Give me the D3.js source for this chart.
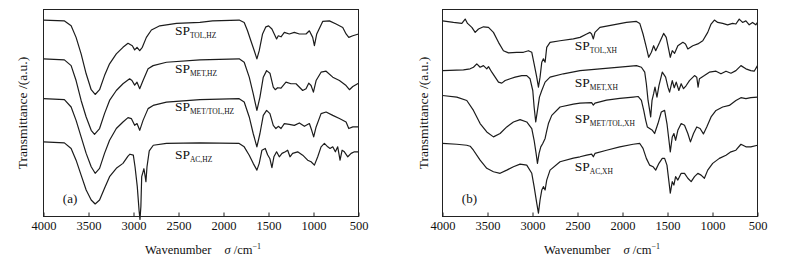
<!DOCTYPE html>
<html lang="en">
<head>
<meta charset="UTF-8">
<title>FTIR spectra (a) HZ and (b) XH</title>
<script src="https://d3js.org/d3.v7.min.js"></script>
<style>
    body { margin: 0; background: #fff; }
    text { font-family: "Liberation Serif", "Times New Roman", serif; fill: #111; }
    .spec { fill: none; stroke: #1c1c1c; stroke-width: 1.2px; stroke-linejoin: round; }
    .frame { fill: none; stroke: #222; stroke-width: 1px; }
</style>
</head>
<body>
<svg width="787" height="257"></svg>
<script>
// wavenumber ticks (cm-1)
var xTicks = [4000, 3500, 3000, 2500, 2000, 1500, 1000, 500];

// panel (a): [wavenumber, transmittance a.u.]
var tolHZ = [[4000,98.7],[3770,98.3],[3693,95.8],[3638,90],[3582,81.7],[3526,71.7],[3470,63.7],[3426,61.3],[3377,63.7],[3322,70.8],[3266,76.7],[3191,81.7],[3117,85],[3061,87],[3013,85.8],[2987,83.7],[2961,85],[2931,83.3],[2902,85],[2857,90],[2801,93.7],[2708,95.8],[2522,97],[2262,97.5],[2122,98.3],[1826,98.7],[1770,97.5],[1733,93.3],[1696,88.3],[1658,83.3],[1629,79.2],[1603,83.3],[1566,91.7],[1529,95.3],[1499,95.8],[1462,94.2],[1436,91.7],[1410,89.2],[1391,90.8],[1361,90.3],[1324,92.5],[1269,91.7],[1213,92.5],[1157,91.7],[1083,91.7],[1046,93.3],[1009,90],[990,85.8],[964,91.7],[898,98],[823,98.3],[749,96.7],[675,95],[638,91.7],[608,90],[563,90.8],[500,91.7]];
var metHZ = [[4000,79.2],[3768,78.7],[3693,75.8],[3638,68.3],[3582,58.3],[3526,50],[3470,43.3],[3433,41.3],[3377,44.2],[3322,51.7],[3266,58.3],[3191,63.3],[3117,66.7],[3043,69.2],[3017,68.3],[2987,66],[2961,67.5],[2931,64.2],[2894,68.3],[2838,74.2],[2782,75.8],[2634,77.5],[2262,78.7],[1826,79.2],[1770,77.5],[1714,70],[1670,61.7],[1629,53.3],[1595,60],[1558,70],[1521,73.3],[1484,72],[1447,65],[1425,63.7],[1399,64.7],[1361,64.5],[1306,67.5],[1250,66.7],[1194,66.7],[1120,63.3],[1083,64.2],[1053,67],[1027,65.8],[1001,62.5],[971,68.3],[916,72.5],[860,73],[786,70],[712,68.3],[638,65.8],[601,63.7],[563,65.3],[500,67]];
var metTolHZ = [[4000,59.2],[3768,58.7],[3693,55],[3638,48.3],[3582,40],[3526,31.7],[3470,25],[3426,21.7],[3377,24.2],[3322,31.7],[3266,38.3],[3191,44.2],[3117,47.5],[3061,49.7],[3024,49.2],[2987,45.8],[2961,46.7],[2931,43.3],[2894,48.3],[2838,54.2],[2782,55.8],[2634,57.5],[2262,58.7],[1826,59.2],[1770,57.5],[1714,50],[1670,41.7],[1629,35],[1595,41.7],[1558,50.8],[1521,53.3],[1484,51.7],[1447,45.8],[1418,44.2],[1391,45.3],[1361,44.2],[1324,46.7],[1269,46.3],[1213,45.8],[1157,47],[1101,45.3],[1046,46.7],[1020,43.3],[998,40],[971,45],[916,51.7],[860,52.5],[786,50.8],[712,49.2],[638,47.5],[608,44.2],[563,45],[500,45]];
var acHZ = [[4000,37.5],[3768,37],[3693,34.2],[3638,28.3],[3582,20.8],[3526,13.3],[3470,8.3],[3426,6.3],[3377,8.3],[3322,14.2],[3266,20],[3191,24.2],[3117,26.7],[3061,30.3],[3039,31.3],[3002,30.8],[2983,25],[2958,15],[2938,3],[2928,-1.5],[2918,5],[2909,20],[2884,24],[2870,20],[2862,17.5],[2850,25],[2825,33],[2780,35.8],[2634,36.7],[2262,37],[1826,36.7],[1770,35],[1714,30.8],[1670,26.7],[1629,23.3],[1603,26.7],[1573,33.3],[1536,34.2],[1510,31],[1484,29],[1462,24.5],[1440,30],[1410,32.5],[1380,30],[1350,31.7],[1313,32.5],[1287,33.3],[1261,30],[1232,31.7],[1176,32.5],[1120,30.8],[1065,28.3],[1027,27.5],[990,25.8],[953,30],[916,35],[879,36.7],[842,35],[816,34.2],[786,35],[757,32.5],[731,35],[705,28.3],[682,33.3],[657,32.5],[619,30],[582,31.7],[545,32.5],[500,32.5]];

// panel (b)
var tolXH = [[4000,98.3],[3878,97.5],[3785,97],[3748,99.2],[3722,97],[3674,95],[3637,92.5],[3600,94.2],[3545,95.3],[3489,95],[3434,92.5],[3378,87.5],[3323,83.3],[3267,82.2],[3175,82.5],[3101,82.5],[3045,83.3],[3008,82.5],[2982,76.7],[2953,70],[2934,65],[2916,70],[2897,77.5],[2879,79.2],[2860,77.5],[2842,85],[2805,87.5],[2694,88.3],[2546,89.2],[2472,90],[2398,91.7],[2361,92.5],[2343,91.7],[2324,89.2],[2306,92.5],[2251,95],[2103,96.3],[1956,97.5],[1845,98],[1808,97],[1772,91.7],[1735,85],[1709,80],[1679,82.5],[1654,85.8],[1631,83.3],[1587,87.5],[1543,92],[1514,90],[1484,83.3],[1469,80],[1447,83.3],[1421,82],[1385,85.8],[1329,87.5],[1300,86.7],[1274,84.2],[1219,85.8],[1163,86.7],[1108,88.3],[1053,92.5],[1016,96.7],[979,98.7],[942,97.5],[887,97],[832,96.3],[777,97],[740,96.7],[703,99.2],[666,97.5],[629,98.3],[592,96.3],[555,97.5],[519,96.3],[500,97.5]];
var metXH = [[4000,73.3],[3767,73.7],[3693,74.2],[3656,75],[3619,76.7],[3582,75],[3545,75.8],[3508,74.2],[3489,75.3],[3452,72.5],[3415,70],[3378,67.5],[3341,67],[3304,68.3],[3249,69.2],[3193,70],[3119,70.8],[3064,70.8],[3027,69.2],[2997,63.3],[2982,55],[2964,47.5],[2945,53.3],[2923,60],[2897,63.3],[2860,67.5],[2805,70],[2657,71.7],[2472,73.3],[2251,74.2],[2030,75],[1845,75.8],[1790,75],[1753,72.5],[1735,66.7],[1716,58.3],[1698,53.3],[1687,50],[1672,58.3],[1654,61.7],[1639,65],[1617,60],[1595,65.8],[1558,72.5],[1521,70],[1495,65],[1477,62.5],[1447,68.3],[1425,64.7],[1403,67.5],[1374,63.3],[1348,66.7],[1322,64.2],[1292,65.8],[1256,68.3],[1200,70.8],[1175,70],[1160,65],[1145,69.2],[1090,70.8],[1035,72.5],[961,73],[906,71.7],[850,73],[795,72],[740,73.3],[684,75.8],[629,74.2],[574,73.3],[537,73],[500,75.8]];
var metTolXH = [[4000,60.8],[3841,60],[3730,58.3],[3656,53.3],[3582,46.7],[3508,42.5],[3434,40],[3360,41.7],[3286,45],[3212,47.5],[3138,48.7],[3064,47.5],[3008,44.2],[2982,38.3],[2960,31.7],[2945,26.7],[2927,31.7],[2908,35],[2886,36.7],[2860,39.2],[2842,43],[2823,46.7],[2786,50.8],[2694,55],[2546,56.5],[2472,57],[2343,57.2],[2324,56],[2306,57],[2177,58.5],[2030,59.3],[1882,60],[1827,60.3],[1790,58.3],[1764,53.3],[1742,48.3],[1724,45],[1698,44.2],[1668,43.3],[1643,41.7],[1606,46.7],[1569,52.5],[1532,53.3],[1506,46.7],[1484,38.3],[1469,32.5],[1447,40],[1429,41.7],[1410,38.3],[1385,43.3],[1348,46.7],[1311,45.8],[1274,41.7],[1245,37.5],[1211,41.7],[1175,45],[1138,44.2],[1101,41.5],[1064,45],[1016,50],[961,53.3],[887,55],[813,55.8],[740,58.3],[684,59.7],[629,59.2],[574,59.7],[500,60]];
var acXH = [[4000,36.7],[3841,36.3],[3730,35.8],[3693,35.3],[3656,33.3],[3582,28.3],[3508,24.2],[3434,22.5],[3360,21.7],[3286,23.3],[3212,25],[3138,26.3],[3064,25.8],[3008,21.7],[2982,15],[2953,6.7],[2934,1.7],[2916,8.3],[2897,13.3],[2879,15],[2860,13.3],[2842,18.3],[2805,23.3],[2694,27.5],[2546,29.3],[2472,30],[2398,30.8],[2343,31.3],[2324,30],[2306,31.7],[2177,33.3],[2030,35],[1882,36.3],[1808,36.7],[1772,34.2],[1735,29.2],[1698,25.8],[1661,25],[1631,23.3],[1595,26.7],[1558,29.2],[1532,29.2],[1506,25.8],[1484,17.5],[1469,11.7],[1447,17.5],[1429,15.8],[1410,20],[1385,18.3],[1348,21.7],[1311,21.7],[1274,19.2],[1237,17.5],[1200,20],[1163,21.7],[1127,20.8],[1090,19.2],[1053,23.3],[998,26.7],[924,29.2],[850,30.8],[795,32.5],[740,33.3],[684,36.3],[629,35],[574,35],[500,35.8]];

var subsA = ["TOL,HZ", "MET,HZ", "MET/TOL,HZ", "AC,HZ"];
var subsB = ["TOL,XH", "MET,XH", "MET/TOL,XH", "AC,XH"];

// layout
var plotTop = 9.5, plotBottom = 216.5;
var panels = [
    { left: 43.5, right: 358.5, ylab: 27, tag: "(a)", series: [tolHZ, metHZ, metTolHZ, acHZ], subs: subsA,
      labX: 2540, labY: [91.1, 72.2, 53.2, 28.9] },
    { left: 442.5, right: 757.5, ylab: 428, tag: "(b)", series: [tolXH, metXH, metTolXH, acXH], subs: subsB,
      labX: 2530, labY: [83.6, 64.9, 47.1, 23.1] }
];

var svg = d3.select("svg");
svg.append("rect").attr("width", 787).attr("height", 257).attr("fill", "#fff");

panels.forEach(function(p) {
    var g = svg.append("g");

    var x = d3.scaleLinear().domain([4000, 500]).range([p.left, p.right]);
    var y = d3.scaleLinear().domain([0, 104]).range([plotBottom, plotTop]);

    var line = d3.line()
                 .x(function(d) { return x(d[0]); })
                 .y(function(d) { return y(d[1]); });

    g.selectAll("path.spec")
     .data(p.series)
     .enter().append("path")
     .attr("class", "spec")
     .attr("d", line);

    g.append("rect")
     .attr("class", "frame")
     .attr("x", p.left).attr("y", plotTop)
     .attr("width", p.right - p.left).attr("height", plotBottom - plotTop);

    var ax = g.append("g")
              .attr("transform", "translate(0," + plotBottom + ")")
              .call(d3.axisBottom(x).tickValues(xTicks).tickFormat(d3.format("d"))
                      .tickSizeInner(-4).tickSizeOuter(0).tickPadding(5));
    // axis call sets its own font attrs, so override afterwards
    ax.attr("font-family", "Liberation Serif, serif").attr("font-size", 12.5);
    ax.select(".domain").remove();
    ax.selectAll(".tick line").attr("stroke", "#222");

    // x title
    var t = g.append("text")
             .attr("x", (p.left + p.right) / 2 + 2)
             .attr("y", 254)
             .attr("text-anchor", "middle")
             .attr("font-size", 12.5);
    t.append("tspan").text("Wavenumber");
    t.append("tspan").attr("dx", 13).attr("font-style", "italic").text("σ");
    t.append("tspan").text(" /cm");
    t.append("tspan").attr("dy", -5).attr("font-size", 8).text("−1");

    // y title
    g.append("text")
     .attr("transform", "translate(" + p.ylab + "," + ((plotTop + plotBottom) / 2) + ") rotate(-90)")
     .attr("text-anchor", "middle")
     .attr("font-size", 13.5)
     .text("Transmittance /(a.u.)");

    // curve labels
    p.subs.forEach(function(s, i) {
        var lt = g.append("text")
                  .attr("x", x(p.labX))
                  .attr("y", y(p.labY[i]))
                  .attr("font-size", 13.5);
        lt.append("tspan").text("SP");
        lt.append("tspan").attr("dy", 3).attr("font-size", 7.5).text(s);
    });

    g.append("text")
     .attr("x", x(3785))
     .attr("y", y(6.8))
     .attr("font-size", 13)
     .text(p.tag);
});
</script>
</body>
</html>
